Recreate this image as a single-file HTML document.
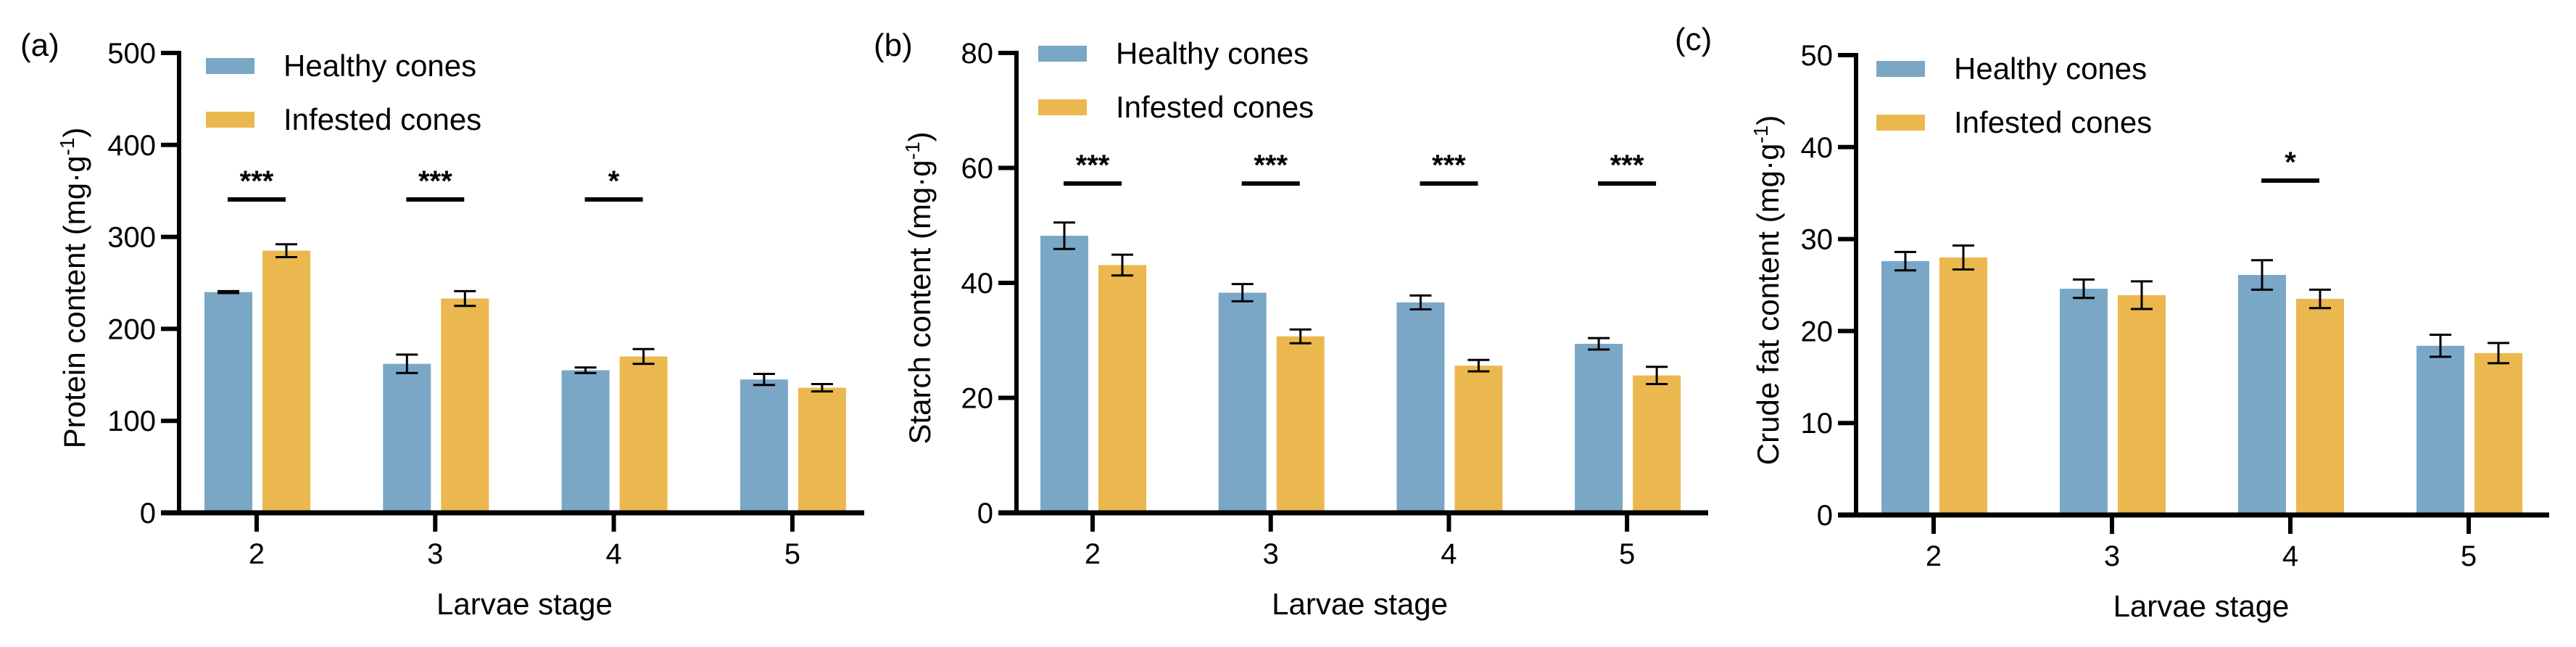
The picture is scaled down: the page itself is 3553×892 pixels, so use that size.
<!DOCTYPE html>
<html><head><meta charset="utf-8"><style>
html,body{margin:0;padding:0;background:#fff;}
svg{display:block;font-family:"Liberation Sans",Arial,sans-serif;}
</style></head>
<body>
<svg id="chart" width="3553" height="892" viewBox="0 0 3553 892" xmlns="http://www.w3.org/2000/svg"></svg>
<script>
const categories = ["2","3","4","5"];
const proteinHealthy = [240,162,155,145];
const proteinHealthyErr = [1,10,3,6];
const proteinInfested = [285,233,170,136];
const proteinInfestedErr = [7,8,8,4];
const proteinTicks = [0,100,200,300,400,500];
const proteinSig = ["***","***","*",""];

const starchHealthy = [48.2,38.3,36.6,29.4];
const starchHealthyErr = [2.3,1.5,1.2,1.0];
const starchInfested = [43.1,30.7,25.6,23.9];
const starchInfestedErr = [1.8,1.2,1.0,1.5];
const starchTicks = [0,20,40,60,80];
const starchSig = ["***","***","***","***"];

const fatHealthy = [27.6,24.6,26.1,18.4];
const fatHealthyErr = [1.0,1.0,1.6,1.2];
const fatInfested = [28.0,23.9,23.5,17.6];
const fatInfestedErr = [1.3,1.5,1.0,1.1];
const fatTicks = [0,10,20,30,40,50];
const fatSig = ["","","*",""];

const NS="http://www.w3.org/2000/svg";
const svg=document.getElementById('chart');
function mk(tag,attrs,parent,text){const e=document.createElementNS(NS,tag);for(const k in attrs)e.setAttribute(k,attrs[k]);if(text!==undefined)e.textContent=text;(parent||svg).appendChild(e);return e;}

function panel(p){
  const g=mk('g',{});
  
  
  const ymax=p.ticks[p.ticks.length-1];
  const y=v=>p.y0-(v/ymax)*(p.y0-p.ytop);
  const x=i=>p.cx0+i*p.step;
  const pl=mk('text',{x:p.labelX,y:p.labelY,'font-size':44,fill:'#000'},g,p.label);
  
  
  const series=[{v:p.h,e:p.he,c:'#7BA7C7',o:-72,n:'healthy'},{v:p.i,e:p.ie,c:'#EBB84F',o:8,n:'infested'}];
  series.forEach(s=>{
    s.v.forEach((val,k)=>{
      const bx=x(k)+s.o, w=66;
      const r=mk('rect',{x:bx,y:y(val),width:w,height:p.y0-y(val),fill:s.c},g);
      
      
      const mx=bx+w/2, cw=15;
      const eg=mk('g',{stroke:'#000','stroke-width':3},g);
      
      
      mk('line',{x1:mx,x2:mx,y1:y(val+s.e[k]),y2:y(val-s.e[k])},eg);
      mk('line',{x1:mx-cw,x2:mx+cw,y1:y(val+s.e[k]),y2:y(val+s.e[k])},eg);
      mk('line',{x1:mx-cw,x2:mx+cw,y1:y(val-s.e[k]),y2:y(val-s.e[k])},eg);
    });
  });
  p.sig.forEach((s,k)=>{
    if(!s)return;
    const sl=mk('line',{x1:x(k)-40,x2:x(k)+40,y1:p.sigY,y2:p.sigY,stroke:'#000','stroke-width':6},g);
    
    
    const st=mk('text',{x:x(k),y:p.sigY-12,'font-size':40,'font-weight':'bold','text-anchor':'middle'},g,s);
    
    
  });
  const ya=mk('line',{x1:p.ax,x2:p.ax,y1:p.ytop-3,y2:p.y0+3,stroke:'#000','stroke-width':6},g);
  
  
  const xa=mk('line',{x1:p.ax-25,x2:p.xend,y1:p.y0,y2:p.y0,stroke:'#000','stroke-width':7},g);
  
  
  p.ticks.forEach(t=>{
    mk('line',{x1:p.ax-25,x2:p.ax,y1:y(t),y2:y(t),stroke:'#000','stroke-width':6},g);
    const tl=mk('text',{x:p.ax-32,y:y(t)+14,'font-size':40,'text-anchor':'end'},g,String(t));
    
    
  });
  categories.forEach((c,k)=>{
    mk('line',{x1:x(k),x2:x(k),y1:p.y0,y2:p.y0+26,stroke:'#000','stroke-width':6},g);
    const tl=mk('text',{x:x(k),y:p.y0+70,'font-size':40,'text-anchor':'middle'},g,c);
    
    
  });
  const xt=mk('text',{x:(x(0)+x(3))/2,y:p.y0+140,'font-size':42,'text-anchor':'middle'},g,'Larvae stage');
  
  
  const yt=mk('text',{x:0,y:0,'font-size':42,'text-anchor':'middle',transform:'translate('+p.ytX+','+p.ytY+') rotate(-90)'},g);
  
  
  yt.appendChild(document.createTextNode(p.yt+' (mg·g'));
  mk('tspan',{'baseline-shift':'super','font-size':28},yt,'-1');
  yt.appendChild(document.createTextNode(')'));
  [['Healthy cones','#7BA7C7',0],['Infested cones','#EBB84F',1]].forEach(L=>{
    const ly=p.legY+L[2]*74;
    const lr=mk('rect',{x:p.legX,y:ly,width:67,height:22,fill:L[1]},g);
    
    
    const lt=mk('text',{x:p.legX+107,y:ly+25,'font-size':42},g,L[0]);
    
    
  });
}

panel({name:'panel-a-protein',label:'(a)',labelX:28,labelY:77,ax:247,xend:1192,y0:707,ytop:73,ticks:proteinTicks,
  cx0:354,step:246.3,h:proteinHealthy,he:proteinHealthyErr,i:proteinInfested,ie:proteinInfestedErr,sig:proteinSig,sigY:275,
  yt:'Protein content',ytX:117,ytY:397,legX:284,legY:80});
panel({name:'panel-b-starch',label:'(b)',labelX:1205,labelY:77,ax:1402,xend:2356,y0:707,ytop:73,ticks:starchTicks,
  cx0:1507,step:245.7,h:starchHealthy,he:starchHealthyErr,i:starchInfested,ie:starchInfestedErr,sig:starchSig,sigY:253,
  yt:'Starch content',ytX:1283,ytY:397,legX:1432,legY:63});
panel({name:'panel-c-fat',label:'(c)',labelX:2310,labelY:69,ax:2560,xend:3516,y0:710,ytop:76,ticks:fatTicks,
  cx0:2667,step:246,h:fatHealthy,he:fatHealthyErr,i:fatInfested,ie:fatInfestedErr,sig:fatSig,sigY:249,
  yt:'Crude fat content',ytX:2453,ytY:400,legX:2588,legY:84});
</script>
</body></html>
